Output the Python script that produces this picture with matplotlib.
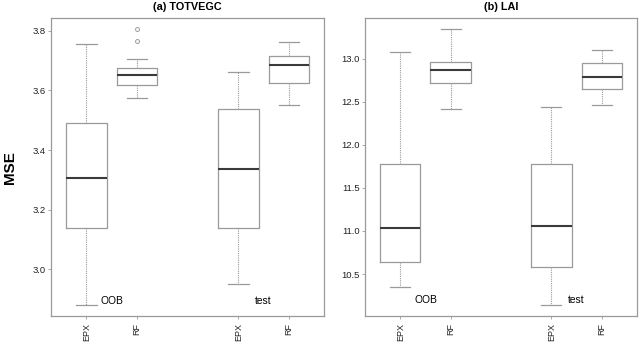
import matplotlib
matplotlib.use("Agg")
import matplotlib.pyplot as plt

plt.rcParams['font.family'] = ['Liberation Sans', 'DejaVu Sans']

# box positions and labels
positions = [1, 2, 4, 5]
tick_labels = ["EPX", "RF", "EPX", "RF"]

# (a) TOTVEGC : EPX-OOB, RF-OOB, EPX-test, RF-test
a_whislo = [2.880, 3.576, 2.951, 3.550]
a_q1 = [3.140, 3.619, 3.140, 3.625]
a_med = [3.306, 3.652, 3.336, 3.686]
a_q3 = [3.490, 3.674, 3.538, 3.714]
a_whishi = [3.754, 3.706, 3.662, 3.761]
a_fliers = [[], [3.765, 3.805], [], []]

# (b) LAI
b_whislo = [10.351, 12.42, 10.145, 12.463]
b_q1 = [10.645, 12.715, 10.587, 12.648]
b_med = [11.036, 12.869, 11.055, 12.791]
b_q3 = [11.778, 12.965, 11.778, 12.954]
b_whishi = [13.074, 13.341, 12.436, 13.101]
b_fliers = [[], [], [], []]

group_labels = ["OOB", "test"]

GRAY = "#9a9a9a"


def make_stats(lo, q1, med, q3, hi, fl):
    stats = []
    for i in range(len(lo)):
        stats.append({'whislo': lo[i], 'q1': q1[i], 'med': med[i],
                      'q3': q3[i], 'whishi': hi[i], 'fliers': fl[i]})
    return stats


def draw_panel(ax, stats, title, ylim, yticks, ylabels, txt_y):
    ax.bxp(stats, positions=positions, widths=0.8, showfliers=True,
           patch_artist=False,
           boxprops=dict(color=GRAY, linewidth=0.9),
           medianprops=dict(color="#3a3a3a", linewidth=1.5),
           whiskerprops=dict(color=GRAY, linewidth=0.8, linestyle=(0, (1, 1))),
           capprops=dict(color=GRAY, linewidth=0.9),
           capwidths=0.4,
           flierprops=dict(marker='o', markersize=2.8, markerfacecolor='none',
                           markeredgecolor=GRAY, markeredgewidth=0.7))
    ax.set_xlim(0.3, 5.7)
    ax.set_ylim(*ylim)
    ax.set_xticks(positions)
    ax.set_xticklabels(tick_labels, rotation=90, fontsize=6.5, color="#222222")
    ax.set_yticks(yticks)
    ax.set_yticklabels(ylabels, fontsize=6.8, color="#222222")
    for s in ax.spines.values():
        s.set_color(GRAY)
        s.set_linewidth(0.9)
    ax.tick_params(axis='both', length=2, width=0.6, color=GRAY, pad=2)
    ax.tick_params(axis='x', pad=3)
    ax.set_title(title, fontsize=7.8, fontweight='bold', pad=6)
    ax.text(1.28, txt_y, group_labels[0], fontsize=7.4, va='center', ha='left')
    ax.text(4.33, txt_y, group_labels[1], fontsize=7.4, va='center', ha='left')


fig = plt.figure(figsize=(6.4, 3.42), dpi=100)
ax1 = fig.add_axes([0.0797, 0.076, 0.4273, 0.8714])
ax2 = fig.add_axes([0.5703, 0.076, 0.4250, 0.8714])

draw_panel(ax1, make_stats(a_whislo, a_q1, a_med, a_q3, a_whishi, a_fliers),
           "(a) TOTVEGC", (2.844, 3.8425),
           [3.0, 3.2, 3.4, 3.6, 3.8], ["3.0", "3.2", "3.4", "3.6", "3.8"], 2.893)
draw_panel(ax2, make_stats(b_whislo, b_q1, b_med, b_q3, b_whishi, b_fliers),
           "(b) LAI", (10.013, 13.472),
           [10.5, 11.0, 11.5, 12.0, 12.5, 13.0],
           ["10.5", "11.0", "11.5", "12.0", "12.5", "13.0"], 10.20)

fig.text(0.0156, 0.51, "MSE", rotation=90, fontsize=11, fontweight='bold',
         ha='center', va='center')

fig.savefig("out.png", dpi=100)
